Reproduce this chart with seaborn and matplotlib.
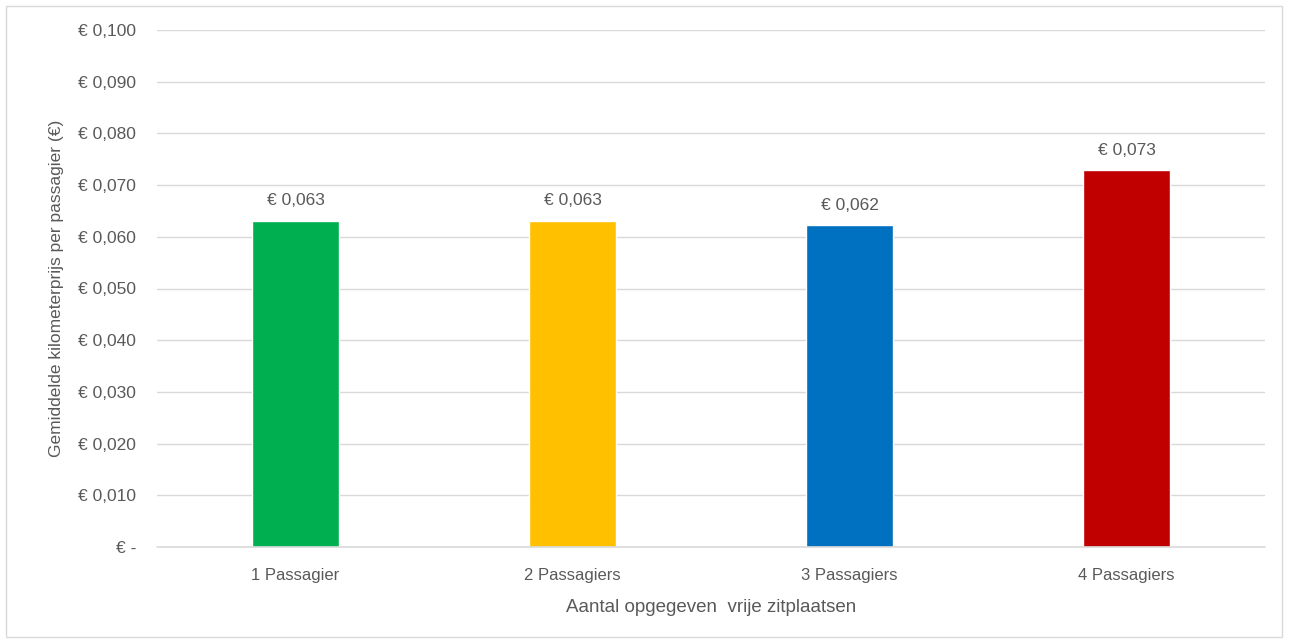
import matplotlib
matplotlib.use("Agg")
import matplotlib.pyplot as plt
import seaborn as sns
import pandas as pd
from matplotlib.patches import Rectangle

categories = ["1 Passagier", "2 Passagiers", "3 Passagiers", "4 Passagiers"]
prices = [0.0631, 0.0631, 0.0623, 0.0729]
labels = ["€ 0,063", "€ 0,063", "€ 0,062", "€ 0,073"]
colors = ["#00B050", "#FFC000", "#0070C0", "#C00000"]
yticks = [0.0, 0.01, 0.02, 0.03, 0.04, 0.05, 0.06, 0.07, 0.08, 0.09, 0.10]

sns.set_style("white")
plt.rcParams['font.family'] = ['Liberation Sans', 'DejaVu Sans']
txt = "#595959"

df = pd.DataFrame({"cat": categories, "price": prices})

fig = plt.figure(figsize=(12.89, 6.43), dpi=100)
ax = fig.add_axes([157 / 1289, 1 - 547 / 643, (1265 - 157) / 1289, (547 - 30) / 643])

sns.barplot(data=df, x="cat", y="price", hue="cat", palette=colors,
            width=0.314, legend=False, ax=ax, saturation=1, zorder=3)

for i, (v, lab) in enumerate(zip(prices, labels)):
    ax.text(i, v + 0.0024, lab, ha='center', va='bottom', fontsize=12.5, color=txt)

ax.set_ylim(0, 0.1)
ax.set_xlim(-0.5, 3.5)
ax.set_yticks(yticks)
ax.set_yticklabels(["€ -"] + [f"€ {t:.3f}".replace(".", ",") for t in yticks[1:]])
ax.yaxis.grid(True, color="#D9D9D9", linewidth=1, zorder=0)
ax.axhline(0, color="#D9D9D9", linewidth=1.2, clip_on=False, zorder=4)
ax.set_axisbelow(True)
for s in ax.spines.values():
    s.set_visible(False)
ax.tick_params(axis='both', length=0, colors=txt)
ax.tick_params(axis='y', pad=15, labelsize=12.5)
ax.tick_params(axis='x', pad=15, labelsize=12)

ax.set_xlabel("Aantal opgegeven  vrije zitplaatsen", fontsize=13.5, color=txt, labelpad=12)
ax.set_ylabel("Gemiddelde kilometerprijs per passagier (€)", fontsize=12.5, color=txt, labelpad=10)

fig.patches.append(Rectangle((6 / 1289, 6 / 643), 1276 / 1289, 631 / 643,
                             transform=fig.transFigure, fill=False,
                             edgecolor="#D9D9D9", linewidth=1))

fig.savefig("out.png", dpi=100)
